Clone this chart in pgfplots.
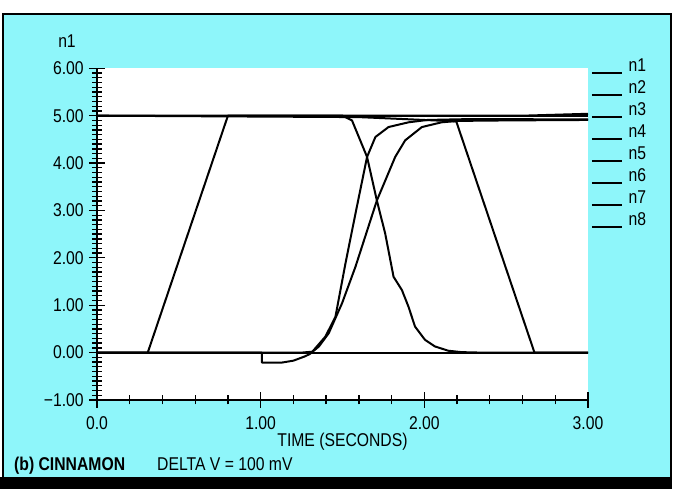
\documentclass[border=0pt]{standalone}
\usepackage{fontspec}
\setmainfont{Liberation Sans}[FakeStretch=0.85]
\usepackage{pgfplots}
\pgfplotsset{compat=1.18}
\definecolor{bgcyan}{RGB}{142,246,250}
\begin{document}
\fontsize{18.5}{21}\selectfont
\begin{tikzpicture}[x=1pt,y=1pt]
\useasboundingbox (0,0) rectangle (677,489);
\fill[white] (0,0) rectangle (677,489);
\fill[bgcyan] (3,12) rectangle (671,475);
\fill[black] (0,0) rectangle (672,12);
\draw[black, line width=1.5pt] (3,12) -- (3,475) -- (671,475) -- (671,12);
\node[anchor=base west, font=\bfseries, inner sep=0pt] at (14,18) {(b) CINNAMON};
\node[anchor=base west, inner sep=0pt] at (157,18) {DELTA V = 100 mV};
\begin{axis}[
  at={(97pt,89pt)}, anchor=south west,
  scale only axis, width=491pt, height=331.7pt,
  xmin=0, xmax=3, ymin=-1, ymax=6,
  axis x line*=bottom, axis y line*=left,
  axis line style={-, line width=1.8pt, black},
  axis background/.style={fill=white},
  /pgf/number format/assume math mode=true,
  xtick={0,1,2,3}, xticklabels={0.0,1.00,2.00,3.00},
  ytick={-1,0,1,2,3,4,5,6},
  yticklabels={−1.00,0.00,1.00,2.00,3.00,4.00,5.00,6.00},
  minor x tick num=4, minor y tick num=9,
  tick align=center,
  major tick length=16pt, minor tick length=9pt,
  tick style={black, line width=1.3pt},
  xticklabel style={anchor=base, yshift=-22pt, inner sep=0pt},
  yticklabel style={anchor=east, xshift=1pt},
  xlabel={TIME (SECONDS)}, ylabel={n1},
  every axis x label/.style={at={(rel axis cs:0.5,0)}, anchor=base, yshift=-47pt},
  every axis y label/.style={at={(rel axis cs:0,1)}, anchor=base, xshift=-30pt, yshift=21pt},
  legend style={at={(rel axis cs:1,1)}, anchor=north west, xshift=3pt, yshift=10pt,
    draw=none, fill=none, inner sep=0pt, row sep=6.8pt, column sep=6pt,
    nodes={inner sep=0pt, text height=13pt, text depth=0pt},
    cells={anchor=base west}},
  legend image code/.code={\draw[black, solid, line width=1.4pt] (0pt,-1.5pt) -- (30pt,-1.5pt);},
  cycle list={black,solid,line width=2pt,line join=round,mark=none\\},
]
\addplot coordinates {(0,0)(0.31,0)(0.80,5.0)(1.5,5.0)(2.6,5.0)(3,5.04)};
\addlegendentry{n1}
\addplot coordinates {(0,5.0)(1.50,5.0)(1.558,4.90)(1.65,4.13)(1.71,3.21)(1.761,2.51)(1.812,1.60)(1.863,1.32)(1.903,0.97)(1.943,0.55)(2.004,0.27)(2.065,0.13)(2.146,0.04)(2.227,0.01)(2.35,0)(3,0)};
\addlegendentry{n2}
\addplot coordinates {(0,0)(1.25,0)(1.316,0.02)(1.396,0.34)(1.457,0.76)(1.518,1.88)(1.579,2.93)(1.650,4.13)(1.701,4.55)(1.781,4.76)(1.903,4.86)(2.02,4.91)(2.3,4.93)(3,4.92)};
\addlegendentry{n3}
\addplot coordinates {(0,0)(1.007,0)(1.007,-0.21)(1.13,-0.21)(1.20,-0.17)(1.27,-0.08)(1.30,-0.03)(1.356,0.13)(1.416,0.41)(1.497,1.04)(1.579,1.81)(1.71,3.21)(1.822,4.13)(1.883,4.48)(1.985,4.76)(2.105,4.86)(2.207,4.89)(2.5,4.90)(3,4.91)};
\addlegendentry{n4}
\addplot coordinates {(0,5.0)(1.6,4.97)(2.195,4.88)(2.673,0)(3,0)};
\addlegendentry{n5}
\addplot coordinates {(0,0)(3,0)};
\addlegendentry{n6}
\addplot coordinates {(0,5.0)(3,5.0)};
\addlegendentry{n7}
\addplot coordinates {(0,0)(3,0)};
\addlegendentry{n8}
\end{axis}
\end{tikzpicture}
\end{document}
